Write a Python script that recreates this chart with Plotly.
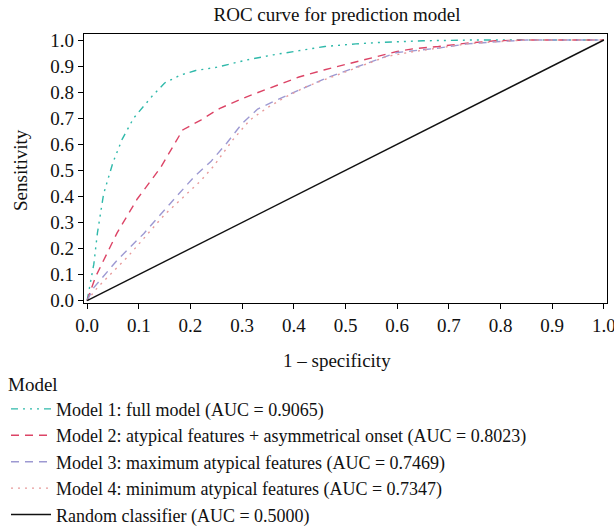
import plotly.graph_objects as go

# ---- data ----
m1_fpr = [0, 0.005, 0.013, 0.02, 0.032, 0.05, 0.068, 0.09, 0.126, 0.15, 0.18, 0.21, 0.25, 0.31, 0.36, 0.41, 0.46, 0.52, 0.57, 0.65, 0.75, 1.0]
m1_tpr = [0, 0.06, 0.14, 0.26, 0.41, 0.53, 0.62, 0.70, 0.785, 0.835, 0.865, 0.883, 0.895, 0.924, 0.943, 0.959, 0.975, 0.985, 0.991, 0.997, 1.0, 1.0]

m2_fpr = [0, 0.016, 0.058, 0.097, 0.142, 0.165, 0.185, 0.22, 0.257, 0.31, 0.36, 0.41, 0.46, 0.515, 0.567, 0.6, 0.63, 0.68, 0.735, 0.79, 0.85, 1.0]
m2_tpr = [0, 0.09, 0.26, 0.39, 0.51, 0.59, 0.655, 0.693, 0.738, 0.783, 0.822, 0.858, 0.886, 0.914, 0.94, 0.956, 0.966, 0.975, 0.988, 0.997, 1.0, 1.0]

m3_fpr = [0, 0.013, 0.058, 0.11, 0.161, 0.207, 0.24, 0.27, 0.30, 0.33, 0.367, 0.412, 0.463, 0.515, 0.567, 0.6, 0.68, 0.735, 0.79, 0.85, 1.0]
m3_tpr = [0, 0.05, 0.155, 0.258, 0.373, 0.475, 0.535, 0.604, 0.68, 0.735, 0.77, 0.809, 0.854, 0.892, 0.93, 0.952, 0.969, 0.985, 0.993, 1.0, 1.0]

m4_fpr = [0, 0.02, 0.077, 0.15, 0.22, 0.244, 0.282, 0.315, 0.347, 0.38, 0.425, 0.476, 0.528, 0.58, 0.63, 0.68, 0.735, 0.79, 0.85, 1.0]
m4_tpr = [0, 0.05, 0.165, 0.33, 0.46, 0.514, 0.617, 0.693, 0.738, 0.777, 0.822, 0.86, 0.898, 0.937, 0.955, 0.968, 0.985, 0.993, 1.0, 1.0]

rand_fpr = [0, 1]
rand_tpr = [0, 1]

names = [
    "Model 1: full model (AUC = 0.9065)",
    "Model 2: atypical features + asymmetrical onset (AUC = 0.8023)",
    "Model 3: maximum atypical features (AUC = 0.7469)",
    "Model 4: minimum atypical features (AUC = 0.7347)",
    "Random classifier (AUC = 0.5000)",
]
tick_vals = [0, 0.1, 0.2, 0.3, 0.4, 0.5, 0.6, 0.7, 0.8, 0.9, 1.0]
tick_text = ["0.0", "0.1", "0.2", "0.3", "0.4", "0.5", "0.6", "0.7", "0.8", "0.9", "1.0"]

FONT = "Liberation Serif"
FS = 19
TXT = "#111111"

series = [
    (m1_fpr, m1_tpr, "#2fb9aa", "7px,5px,2px,5px,2px,5px,2px,5px"),
    (m2_fpr, m2_tpr, "#dc4466", "8px,6px"),
    (m3_fpr, m3_tpr, "#9d99d2", "8px,6px"),
    (m4_fpr, m4_tpr, "#e89b9b", "2px,5px"),
    (rand_fpr, rand_tpr, "#111111", "solid"),
]

fig = go.Figure()
for (xs, ys, col, dash), nm in zip(series, names):
    fig.add_trace(go.Scatter(x=xs, y=ys, mode="lines", name=nm,
                             line=dict(color=col, width=1.4, dash=dash)))

axis_common = dict(
    showline=True, linecolor="black", linewidth=1.2, mirror=True,
    ticks="outside", ticklen=5, tickcolor="black", tickwidth=1.2,
    showgrid=False, zeroline=False,
    tickvals=tick_vals, ticktext=tick_text,
    tickfont=dict(family=FONT, size=FS, color=TXT),
    ticklabeloverflow="allow",
)

# plot area in pixels: x 84..607, y 34..303
PL, PR, PT, PB = 84, 607, 34, 303


def px_x(p):
    return (p - PL) / (PR - PL)


def px_y(p):
    return (PB - p) / (PB - PT)


fig.update_layout(
    width=614, height=526,
    paper_bgcolor="white", plot_bgcolor="white",
    margin=dict(l=PL, r=614 - PR, t=PT, b=526 - PB, autoexpand=False),
    title=dict(text="ROC curve for prediction model", x=px_x(337), xref="paper",
               xanchor="center", y=1 - 14 / 526, yanchor="middle",
               font=dict(family=FONT, size=FS, color=TXT)),
    xaxis=dict(range=[-0.006, 1.006], **axis_common),
    yaxis=dict(range=[-0.009, 1.023], **axis_common),
    legend=dict(
        xref="container", yref="container",
        x=6 / 614, y=1 - 366 / 526, xanchor="left", yanchor="top",
        title=dict(text="Model", font=dict(family=FONT, size=FS, color=TXT)),
        font=dict(family=FONT, size=18, color=TXT),
        bgcolor="rgba(0,0,0,0)", tracegroupgap=0, itemwidth=40,
    ),
    showlegend=True,
    annotations=[
        dict(text="1 – specificity", xref="paper", yref="paper",
             x=px_x(337), y=px_y(360), xanchor="center", yanchor="middle",
             showarrow=False, font=dict(family=FONT, size=FS, color=TXT)),
        dict(text="Sensitivity", xref="paper", yref="paper",
             x=px_x(20), y=px_y(170), xanchor="center", yanchor="middle",
             textangle=-90, showarrow=False,
             font=dict(family=FONT, size=FS, color=TXT)),
    ],
)

fig.write_html("out.html", config={"displayModeBar": False},
               post_script="document.body.style.margin='0';document.body.style.overflow='hidden';")
